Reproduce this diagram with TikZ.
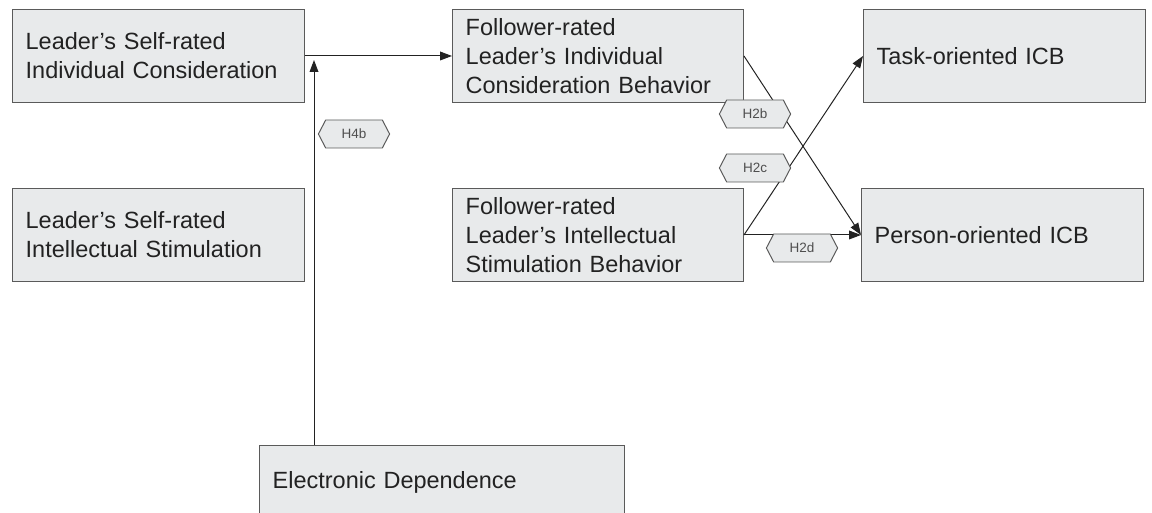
\documentclass[tikz,border=0pt]{standalone}
\usepackage{fontspec}
\setmainfont{Liberation Sans}
\usetikzlibrary{arrows.meta,shapes.symbols}
\definecolor{boxgray}{RGB}{232,234,235}
\definecolor{edgegray}{RGB}{90,90,90}
\definecolor{inkgray}{RGB}{34,34,34}
\begin{document}
\begin{tikzpicture}[x=1cm,y=1cm,line width=0.7pt,
  box/.style={draw=edgegray,fill=boxgray,rectangle,text=inkgray,
    font=\fontsize{16.7}{20.6}\selectfont,align=left,inner xsep=0.33cm,
    inner ysep=0.1cm,minimum height=2.325cm,anchor=north west},
  hyp/.style={draw=edgegray,fill=boxgray,signal,signal to=west and east,
    signal pointer angle=125,minimum width=1.78cm,minimum height=0.7cm,
    inner sep=0pt,font=\fontsize{9.6}{11}\selectfont,text=inkgray!80},
  link/.style={draw=inkgray,-{Triangle[length=3mm,width=2.2mm]}}]
 \useasboundingbox (0,0) rectangle (28.8,-12.825);
 \clip (0,0) rectangle (28.8,-12.825);
 % constructs
 \foreach \nm/\x/\y/\w/\lab in {%
   lsic/0.3/-0.225/6.64/{Leader's Self-rated\\Individual Consideration},
   lsis/0.3/-4.7/6.64/{Leader's Self-rated\\Intellectual Stimulation},
   ficb/11.3/-0.225/6.615/{Follower-rated\\Leader's Individual\\Consideration Behavior},
   fisb/11.3/-4.7/6.615/{Follower-rated\\Leader's Intellectual\\Stimulation Behavior},
   task/21.575/-0.225/6.39/{Task-oriented ICB},
   person/21.525/-4.7/6.39/{Person-oriented ICB}}{%
   \node[box,text width=\w cm] (\nm) at (\x,\y) {\lab};
 }
 \node[box,text width=8.465cm,minimum height=1.85cm] (elec) at (6.475,-11.125) {Electronic Dependence};
 % paths
 \coordinate (modtip) at (7.85,-1.5);
 \draw[link] (lsic.east) -- (ficb.west);
 \draw[link] (elec.north -| modtip) -- (modtip);
 \draw[link] (ficb.east) -- (person.west);
 \draw[link] (fisb.east) -- (task.west);
 \draw[link] (fisb.east) -- (person.west);
 % hypotheses
 \node[hyp] (h4b) at (8.85,-3.35) {H4b};
 \node[hyp] (h2b) at (18.875,-2.85) {H2b};
 \node[hyp] (h2c) at (18.875,-4.2) {H2c};
 \node[hyp] (h2d) at (20.05,-6.2) {H2d};
\end{tikzpicture}
\end{document}
